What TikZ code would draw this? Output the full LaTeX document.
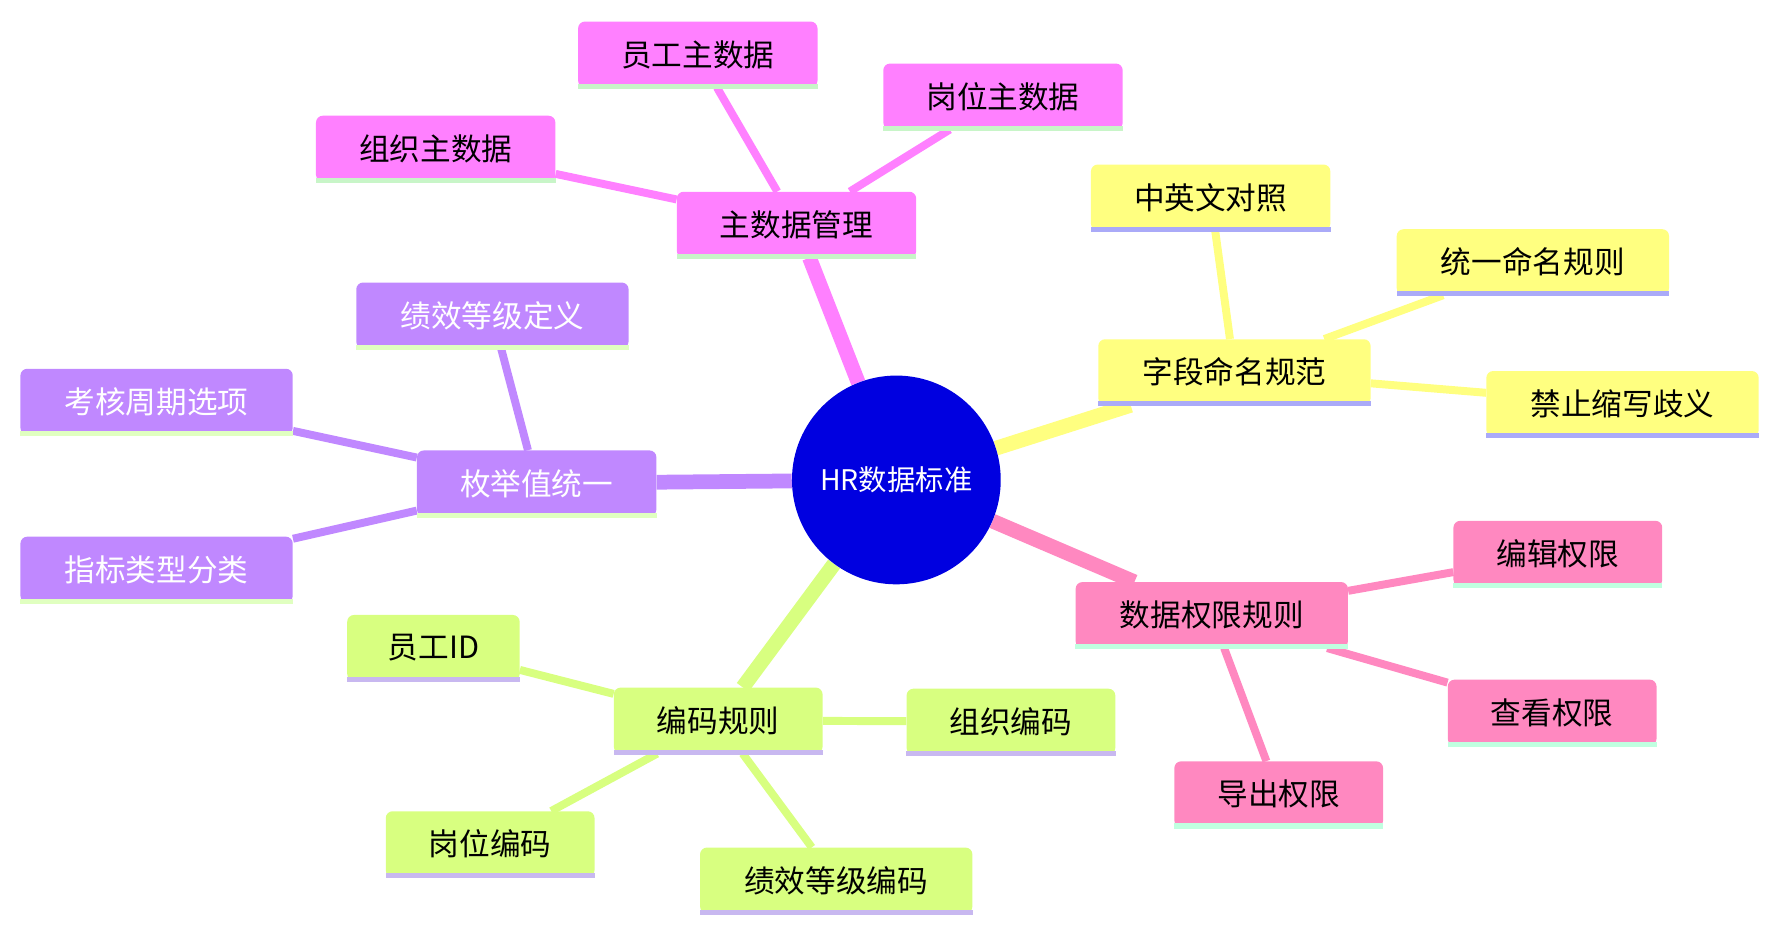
\documentclass[tikz,border=0pt]{standalone}
\usepackage{fontspec}
\setmainfont{Noto Sans CJK SC}
\begin{document}
\begin{tikzpicture}[x=1pt,y=-1pt,
  box/.style={rounded corners=6pt,minimum height=58pt,inner sep=0pt,font=\fontsize{27}{30}\selectfont},
  mag/.style={box,fill=mfill}, yel/.style={box,fill=yfill}, pnk/.style={box,fill=pfill},
  lim/.style={box,fill=lfill}, pur/.style={box,fill=ufill,text=white},
  e/.style={line width=7pt}, big/.style={line width=13pt}]
\definecolor{mfill}{HTML}{FF80FF}\definecolor{yfill}{HTML}{FFFF80}
\definecolor{pfill}{HTML}{FF88C0}\definecolor{lfill}{HTML}{D8FF80}
\definecolor{ufill}{HTML}{C088FF}
\definecolor{mul}{HTML}{C8F5C8}\definecolor{yul}{HTML}{AAAAF8}
\definecolor{pul}{HTML}{C0FFE0}\definecolor{lul}{HTML}{C8B8F0}\definecolor{uul}{HTML}{E0FFC0}
\useasboundingbox (0,0) rectangle (1560,819);
\node[circle,fill={rgb,255:red,0;green,0;blue,224},minimum size=184pt,inner sep=0pt,text=white,font=\fontsize{25}{28}\selectfont] (root) at (790,423) {HR数据标准};
% magenta
\node[mag,minimum width=211pt] (m) at (702,198) {主数据管理};
\node[mag,minimum width=211pt] (m1) at (615,48) {员工主数据};
\node[mag,minimum width=211pt] (m2) at (884,85) {岗位主数据};
\node[mag,minimum width=211pt] (m3) at (384,131) {组织主数据};
% yellow
\node[yel,minimum width=240pt] (y) at (1088,328) {字段命名规范};
\node[yel,minimum width=211pt] (y1) at (1067,174) {中英文对照};
\node[yel,minimum width=240pt] (y2) at (1351,231) {统一命名规则};
\node[yel,minimum width=240pt] (y3) at (1430,356) {禁止缩写歧义};
% pink
\node[pnk,minimum width=240pt] (p) at (1068,542) {数据权限规则};
\node[pnk,minimum width=184pt] (p1) at (1373,488) {编辑权限};
\node[pnk,minimum width=184pt] (p2) at (1368,628) {查看权限};
\node[pnk,minimum width=184pt] (p3) at (1127,700) {导出权限};
% lime
\node[lim,minimum width=184pt] (l) at (633,635) {编码规则};
\node[lim,minimum width=152pt] (l1) at (382,571) {员工ID};
\node[lim,minimum width=184pt] (l2) at (891,636) {组织编码};
\node[lim,minimum width=184pt] (l3) at (432,744) {岗位编码};
\node[lim,minimum width=240pt] (l4) at (737,776) {绩效等级编码};
% purple
\node[pur,minimum width=211pt] (u) at (473,426) {枚举值统一};
\node[pur,minimum width=240pt] (u1) at (434,278) {绩效等级定义};
\node[pur,minimum width=240pt] (u2) at (138,354) {考核周期选项};
\node[pur,minimum width=240pt] (u3) at (138,502) {指标类型分类};
\begin{scope}[on background layer/.style={}]
\end{scope}
% edges drawn behind via pgf layers
\pgfdeclarelayer{bg}\pgfsetlayers{bg,main}
\begin{pgfonlayer}{bg}
\draw[big,mfill] (root) -- (m);
\draw[e,mfill] (m) -- (m1); \draw[e,mfill] (m) -- (m2); \draw[e,mfill] (m) -- (m3);
\draw[big,yfill] (root) -- (y);
\draw[e,yfill] (y) -- (y1); \draw[e,yfill] (y) -- (y2); \draw[e,yfill] (y) -- (y3);
\draw[big,pfill] (root) -- (p);
\draw[e,pfill] (p) -- (p1); \draw[e,pfill] (p) -- (p2); \draw[e,pfill] (p) -- (p3);
\draw[big,lfill] (root) -- (l);
\draw[e,lfill] (l) -- (l1); \draw[e,lfill] (l) -- (l2); \draw[e,lfill] (l) -- (l3); \draw[e,lfill] (l) -- (l4);
\draw[big,ufill] (root) -- (u);
\draw[e,ufill] (u) -- (u1); \draw[e,ufill] (u) -- (u2); \draw[e,ufill] (u) -- (u3);
\end{pgfonlayer}
% underlines
\foreach \n/\c in {m/mul,m1/mul,m2/mul,m3/mul,y/yul,y1/yul,y2/yul,y3/yul,p/pul,p1/pul,p2/pul,p3/pul,l/lul,l1/lul,l2/lul,l3/lul,l4/lul,u/uul,u1/uul,u2/uul,u3/uul}
  \fill[\c] ([yshift=-1pt]\n.south west) rectangle ([yshift=3.5pt]\n.south east);
\end{tikzpicture}
\end{document}
